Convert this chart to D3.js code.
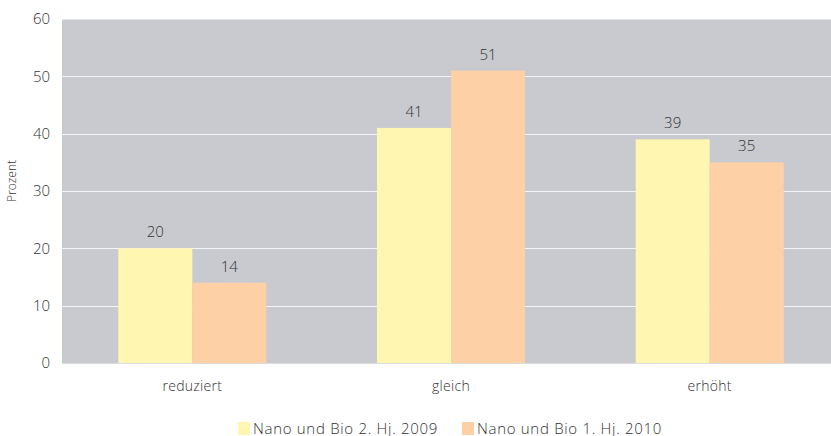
<!DOCTYPE html>
<html>
<head>
<meta charset="utf-8">
<script src="https://cdn.jsdelivr.net/npm/d3@7/dist/d3.min.js"></script>
<style>
  html, body { margin: 0; padding: 0; background: #fff; }
  svg { display: block; }
  text { font-family: "Open Sans", Lato, sans-serif; font-weight: 300; fill: #333; }
</style>
</head>
<body>
<svg id="chart" width="831" height="436"></svg>
<script>
// Anteil der Antworten je Kategorie, in Prozent
const categories = ["reduziert", "gleich", "erhöht"];
const seriesNames = ["Nano und Bio 2. Hj. 2009", "Nano und Bio 1. Hj. 2010"];
const values2009 = [20, 41, 39];
const values2010 = [14, 51, 35];
const yTicks = [0, 10, 20, 30, 40, 50, 60];
const yTitle = "Prozent";

const colors = ["#fff7b1", "#fdd0a6"];
const fontStack = "'Open Sans', Lato, sans-serif";

const svg = d3.select("#chart");
const plot = { left: 62, right: 839, top: 19, bottom: 363 };

const x = d3.scaleBand().domain(categories).range([plot.left + 1, plot.right]).paddingInner(0).paddingOuter(0);
const xInner = d3.scaleBand().domain(d3.range(seriesNames.length)).range([0, x.bandwidth()]).paddingInner(0).paddingOuter(0.748);
const y = d3.scaleLinear().domain([0, 60]).range([plot.bottom, plot.top]);

// Hintergrund der Zeichenfläche
svg.append("rect")
  .attr("x", plot.left).attr("y", plot.top)
  .attr("width", plot.right - plot.left).attr("height", plot.bottom - plot.top)
  .attr("fill", "#c9cacf");

// Gitterlinien
svg.append("g").selectAll("line")
  .data(yTicks.filter(t => t > 0))
  .join("line")
  .attr("x1", plot.left).attr("x2", plot.right)
  .attr("y1", d => Math.round(y(d)) + 0.5).attr("y2", d => Math.round(y(d)) + 0.5)
  .attr("stroke", d => d === 60 ? "#e4e5e8" : "#f4f4f6").attr("stroke-width", 1.2);

// Balken
const data = categories.map((c, i) => ({ cat: c, vals: [values2009[i], values2010[i]] }));
const groups = svg.append("g").selectAll("g")
  .data(data).join("g")
  .attr("transform", d => `translate(${x(d.cat)},0)`);

groups.selectAll("rect")
  .data(d => d.vals.map((v, k) => ({ v, k })))
  .join("rect")
  .attr("x", d => xInner(d.k))
  .attr("width", xInner.bandwidth())
  .attr("y", d => y(d.v))
  .attr("height", d => y(0) - y(d.v))
  .attr("fill", d => colors[d.k]);

groups.selectAll("text.val")
  .data(d => d.vals.map((v, k) => ({ v, k })))
  .join("text")
  .attr("class", "val")
  .attr("x", d => xInner(d.k) + xInner.bandwidth() / 2)
  .attr("y", d => y(d.v) - 11)
  .attr("text-anchor", "middle")
  .attr("font-size", 15)
  .text(d => d3.format("d")(d.v));

// Nulllinie
svg.append("line")
  .attr("x1", plot.left).attr("x2", plot.right)
  .attr("y1", y(0) + 0.5).attr("y2", y(0) + 0.5)
  .attr("stroke", "#dcdde0").attr("stroke-width", 1.2);

// y-Achse
const yAxis = d3.axisLeft(y).tickValues(yTicks).tickSize(0).tickPadding(12);
const gy = svg.append("g").attr("transform", `translate(${plot.left},0)`).call(yAxis);
gy.select(".domain").remove();
gy.selectAll("text").attr("font-size", 15).attr("font-family", fontStack).attr("font-weight", 300).attr("fill", "#333");

svg.append("text")
  .attr("transform", "translate(16,181) rotate(-90)")
  .attr("text-anchor", "middle")
  .attr("font-size", 12)
  .text(yTitle);

// x-Achse
const xAxis = d3.axisBottom(x).tickSize(0).tickPadding(18);
const gx = svg.append("g").attr("transform", `translate(0,${plot.bottom})`).call(xAxis);
gx.select(".domain").remove();
gx.selectAll("text").attr("font-size", 14).attr("font-family", fontStack).attr("font-weight", 300)
  .attr("letter-spacing", 0.3).attr("fill", "#333");

// Legende
const legendX = [238, 462];
const legend = svg.append("g").selectAll("g")
  .data(seriesNames).join("g")
  .attr("transform", (d, i) => `translate(${legendX[i]},422)`);
legend.append("rect").attr("width", 12).attr("height", 13).attr("fill", (d, i) => colors[i]);
legend.append("text").attr("x", 15).attr("y", 11.5).attr("font-size", 15)
  .attr("letter-spacing", 0.7).text(d => d);
</script>
</body>
</html>
